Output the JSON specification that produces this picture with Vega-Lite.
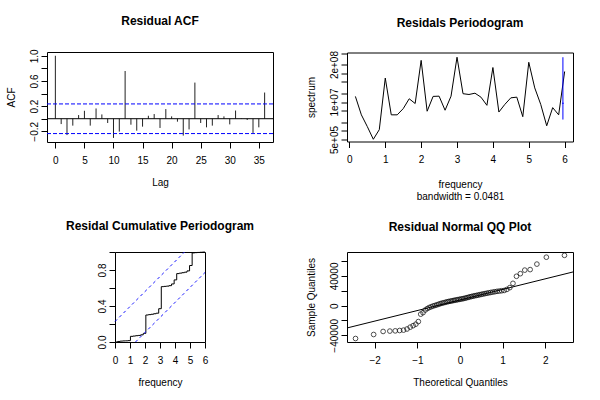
{
  "$schema": "https://vega.github.io/schema/vega-lite/v6.json",
  "padding": {"left": 5, "top": 14, "right": 5, "bottom": 5},
  "background": "white",
  "columns": 2,
  "bounds": "flush",
  "center": true,
  "spacing": {"row": 110, "column": 74},
  "config": {
    "font": "Liberation Sans",
    "view": {"stroke": "black", "strokeWidth": 1},
    "axis": {"domain": false, "grid": false, "ticks": true, "tickColor": "black", "tickSize": 6, "tickWidth": 1,
      "labelColor": "black", "labelFont": "Liberation Sans", "labelFontSize": 10, "labelPadding": 7,
      "labelFlush": false, "labelOverlap": false,
      "titleFont": "Liberation Sans", "titleFontSize": 10, "titleFontWeight": "normal", "titleColor": "black", "titlePadding": 12},
    "axisY": {"labelAngle": -90, "labelAlign": "center", "labelBaseline": "bottom", "labelPadding": 2, "titlePadding": 13},
    "title": {"font": "Liberation Sans", "fontSize": 12, "fontWeight": "bold", "color": "black", "anchor": "middle"}
  },
  "concat": [
    {
      "width": 226, "height": 90,
      "title": {"text": "Residual ACF", "offset": 21},
      "layer": [
        {
          "data": {"values": [
            {"lag": 0, "acf": 1.0}, {"lag": 1, "acf": -0.085}, {"lag": 2, "acf": -0.26}, {"lag": 3, "acf": -0.11},
            {"lag": 4, "acf": 0.058}, {"lag": 5, "acf": 0.126}, {"lag": 6, "acf": -0.11}, {"lag": 7, "acf": 0.163},
            {"lag": 8, "acf": 0.068}, {"lag": 9, "acf": -0.068}, {"lag": 10, "acf": -0.305}, {"lag": 11, "acf": -0.205},
            {"lag": 12, "acf": 0.758}, {"lag": 13, "acf": -0.095}, {"lag": 14, "acf": -0.19}, {"lag": 15, "acf": -0.126},
            {"lag": 16, "acf": 0.047}, {"lag": 17, "acf": 0.074}, {"lag": 18, "acf": -0.147}, {"lag": 19, "acf": 0.153},
            {"lag": 20, "acf": 0.037}, {"lag": 21, "acf": -0.047}, {"lag": 22, "acf": -0.268}, {"lag": 23, "acf": -0.17},
            {"lag": 24, "acf": 0.574}, {"lag": 25, "acf": -0.068}, {"lag": 26, "acf": -0.137}, {"lag": 27, "acf": -0.11},
            {"lag": 28, "acf": 0.058}, {"lag": 29, "acf": 0.037}, {"lag": 30, "acf": -0.09}, {"lag": 31, "acf": 0.13},
            {"lag": 32, "acf": -0.005}, {"lag": 33, "acf": -0.02}, {"lag": 34, "acf": -0.226}, {"lag": 35, "acf": -0.137},
            {"lag": 36, "acf": 0.416}
          ]},
          "mark": {"type": "rule", "color": "#222222", "strokeWidth": 1},
          "encoding": {
            "x": {"field": "lag", "type": "quantitative", "scale": {"domain": [-1.44, 37.44], "nice": false, "zero": false},
              "axis": {"values": [0, 5, 10, 15, 20, 25, 30, 35], "title": "Lag"}},
            "y": {"field": "acf", "type": "quantitative", "scale": {"domain": [-0.37, 1.06], "nice": false, "zero": false},
              "axis": {"values": [-0.2, 0, 0.2, 0.4, 0.6, 0.8, 1], "format": ".1f",
                "labelExpr": "abs(datum.value - 1) < 0.001 || abs(datum.value - 0.6) < 0.001 || abs(datum.value - 0.2) < 0.001 || abs(datum.value + 0.2) < 0.001 ? datum.label : ''",
                "title": "ACF"}},
            "y2": {"datum": 0}
          }
        },
        {
          "data": {"values": [{"acf": 0}]},
          "mark": {"type": "rule", "color": "black", "strokeWidth": 1},
          "encoding": {"y": {"field": "acf", "type": "quantitative", "scale": {"domain": [-0.37, 1.06], "nice": false, "zero": false},
              "axis": {"values": [-0.2, 0, 0.2, 0.4, 0.6, 0.8, 1], "format": ".1f",
                "labelExpr": "abs(datum.value - 1) < 0.001 || abs(datum.value - 0.6) < 0.001 || abs(datum.value - 0.2) < 0.001 || abs(datum.value + 0.2) < 0.001 ? datum.label : ''",
                "title": "ACF"}}}
        },
        {
          "data": {"values": [{"acf": 0.235}, {"acf": -0.236}]},
          "mark": {"type": "rule", "color": "#0000ff", "strokeWidth": 1, "strokeDash": [4, 2]},
          "encoding": {"y": {"field": "acf", "type": "quantitative", "scale": {"domain": [-0.37, 1.06], "nice": false, "zero": false},
              "axis": {"values": [-0.2, 0, 0.2, 0.4, 0.6, 0.8, 1], "format": ".1f",
                "labelExpr": "abs(datum.value - 1) < 0.001 || abs(datum.value - 0.6) < 0.001 || abs(datum.value - 0.2) < 0.001 || abs(datum.value + 0.2) < 0.001 ? datum.label : ''",
                "title": "ACF"}}}
        }
      ]
    },
    {
      "width": 226, "height": 89,
      "title": {"text": "Residals Periodogram", "offset": 21},
      "layer": [
        {
          "data": {"values": [
            {"freq": 0.1667, "spec": 15700000}, {"freq": 0.3333, "spec": 3600000}, {"freq": 0.5, "spec": 1400000},
            {"freq": 0.6667, "spec": 510000}, {"freq": 0.8333, "spec": 1100000}, {"freq": 1.0, "spec": 68000000},
            {"freq": 1.1667, "spec": 3600000}, {"freq": 1.3333, "spec": 3600000}, {"freq": 1.5, "spec": 5900000},
            {"freq": 1.6667, "spec": 13000000}, {"freq": 1.8333, "spec": 8900000}, {"freq": 2.0, "spec": 280000000},
            {"freq": 2.1667, "spec": 4800000}, {"freq": 2.3333, "spec": 15700000}, {"freq": 2.5, "spec": 16000000},
            {"freq": 2.6667, "spec": 5200000}, {"freq": 2.8333, "spec": 16000000}, {"freq": 3.0, "spec": 360000000},
            {"freq": 3.1667, "spec": 19500000}, {"freq": 3.3333, "spec": 18300000}, {"freq": 3.5, "spec": 20300000},
            {"freq": 3.6667, "spec": 14800000}, {"freq": 3.8333, "spec": 7700000}, {"freq": 4.0, "spec": 158000000},
            {"freq": 4.1667, "spec": 4500000}, {"freq": 4.3333, "spec": 8300000}, {"freq": 4.5, "spec": 14000000},
            {"freq": 4.6667, "spec": 14800000}, {"freq": 4.8333, "spec": 3100000}, {"freq": 5.0, "spec": 240000000},
            {"freq": 5.1667, "spec": 31000000}, {"freq": 5.3333, "spec": 8300000}, {"freq": 5.5, "spec": 1500000},
            {"freq": 5.6667, "spec": 6400000}, {"freq": 5.8333, "spec": 3600000}, {"freq": 6.0, "spec": 115000000}
          ]},
          "mark": {"type": "line", "color": "black", "strokeWidth": 1},
          "encoding": {
            "x": {"field": "freq", "type": "quantitative", "scale": {"domain": [-0.067, 6.233], "nice": false, "zero": false},
              "axis": {"values": [0, 1, 2, 3, 4, 5, 6], "title": ["frequency", "bandwidth = 0.0481"], "titleLineHeight": 12, "titlePadding": 15}},
            "y": {"field": "spec", "type": "quantitative", "scale": {"type": "log", "domain": [427000, 525000000], "nice": false},
              "axis": {"values": [500000, 1000000, 2000000, 5000000, 10000000, 20000000, 50000000, 100000000, 200000000, 500000000],
                "labelExpr": "datum.value == 500000 ? '5e+05' : datum.value == 10000000 ? '1e+07' : datum.value == 200000000 ? '2e+08' : ''",
                "title": "spectrum"}}
          }
        },
        {
          "data": {"values": [{"freq": 5.952, "spec": 2470000, "hi": 360000000}]},
          "mark": {"type": "rule", "color": "#0000ff", "strokeWidth": 1},
          "encoding": {
            "x": {"field": "freq", "type": "quantitative", "scale": {"domain": [-0.067, 6.233], "nice": false, "zero": false},
              "axis": {"values": [0, 1, 2, 3, 4, 5, 6], "title": ["frequency", "bandwidth = 0.0481"], "titleLineHeight": 12, "titlePadding": 15}},
            "y": {"field": "spec", "type": "quantitative", "scale": {"type": "log", "domain": [427000, 525000000], "nice": false},
              "axis": {"values": [500000, 1000000, 2000000, 5000000, 10000000, 20000000, 50000000, 100000000, 200000000, 500000000],
                "labelExpr": "datum.value == 500000 ? '5e+05' : datum.value == 10000000 ? '1e+07' : datum.value == 200000000 ? '2e+08' : ''",
                "title": "spectrum"}},
            "y2": {"field": "hi"}
          }
        },
        {
          "data": {"values": [{"freq": 5.928, "f2": 5.976, "spec": 9100000}]},
          "mark": {"type": "rule", "color": "#0000ff", "strokeWidth": 1},
          "encoding": {
            "x": {"field": "freq", "type": "quantitative", "scale": {"domain": [-0.067, 6.233], "nice": false, "zero": false},
              "axis": {"values": [0, 1, 2, 3, 4, 5, 6], "title": ["frequency", "bandwidth = 0.0481"], "titleLineHeight": 12, "titlePadding": 15}},
            "x2": {"field": "f2"},
            "y": {"field": "spec", "type": "quantitative", "scale": {"type": "log", "domain": [427000, 525000000], "nice": false},
              "axis": {"values": [500000, 1000000, 2000000, 5000000, 10000000, 20000000, 50000000, 100000000, 200000000, 500000000],
                "labelExpr": "datum.value == 500000 ? '5e+05' : datum.value == 10000000 ? '1e+07' : datum.value == 200000000 ? '2e+08' : ''",
                "title": "spectrum"}}
          }
        }
      ]
    },
    {
      "width": 90, "height": 90,
      "title": {"text": "Residal Cumulative Periodogram", "offset": 17},
      "layer": [
        {
          "data": {"values": [
            {"freq": 0, "cum": 0}, {"freq": 0.1714, "cum": 0.006}, {"freq": 0.3429, "cum": 0.01}, {"freq": 0.5143, "cum": 0.012},
            {"freq": 0.6857, "cum": 0.013}, {"freq": 0.8571, "cum": 0.015}, {"freq": 1.0286, "cum": 0.063}, {"freq": 1.2, "cum": 0.066},
            {"freq": 1.3714, "cum": 0.07}, {"freq": 1.5429, "cum": 0.073}, {"freq": 1.7143, "cum": 0.08}, {"freq": 1.8857, "cum": 0.096},
            {"freq": 2.0571, "cum": 0.3}, {"freq": 2.2286, "cum": 0.304}, {"freq": 2.4, "cum": 0.308}, {"freq": 2.5714, "cum": 0.314},
            {"freq": 2.7429, "cum": 0.32}, {"freq": 2.9143, "cum": 0.37}, {"freq": 3.0857, "cum": 0.615}, {"freq": 3.2571, "cum": 0.618},
            {"freq": 3.4286, "cum": 0.621}, {"freq": 3.6, "cum": 0.626}, {"freq": 3.7714, "cum": 0.645}, {"freq": 3.9429, "cum": 0.69},
            {"freq": 4.1143, "cum": 0.76}, {"freq": 4.2857, "cum": 0.765}, {"freq": 4.4571, "cum": 0.77}, {"freq": 4.6286, "cum": 0.776},
            {"freq": 4.8, "cum": 0.79}, {"freq": 4.9714, "cum": 0.85}, {"freq": 5.1429, "cum": 0.99}, {"freq": 5.3143, "cum": 0.993},
            {"freq": 5.4857, "cum": 0.995}, {"freq": 5.6571, "cum": 0.997}, {"freq": 5.8286, "cum": 0.999}, {"freq": 6.0, "cum": 1.0}
          ]},
          "mark": {"type": "line", "color": "black", "strokeWidth": 1, "interpolate": "step-after"},
          "encoding": {
            "x": {"field": "freq", "type": "quantitative", "scale": {"domain": [0, 6], "nice": false, "zero": false},
              "axis": {"values": [0, 1, 2, 3, 4, 5, 6], "title": "frequency"}},
            "y": {"field": "cum", "type": "quantitative", "scale": {"domain": [0, 1], "nice": false},
              "axis": {"values": [0, 0.2, 0.4, 0.6, 0.8, 1], "format": ".1f",
                "labelExpr": "abs(datum.value) < 0.001 || abs(datum.value - 0.4) < 0.001 || abs(datum.value - 0.8) < 0.001 ? datum.label : ''", "title": null}}
          }
        },
        {
          "data": {"values": [
            {"freq": 0, "cum": 0.2275, "side": "upper"}, {"freq": 4.635, "cum": 1, "side": "upper"},
            {"freq": 1.365, "cum": 0, "side": "lower"}, {"freq": 6, "cum": 0.7725, "side": "lower"}
          ]},
          "mark": {"type": "line", "color": "#1a1aff", "strokeWidth": 1, "strokeDash": [3, 3]},
          "encoding": {
            "x": {"field": "freq", "type": "quantitative", "scale": {"domain": [0, 6], "nice": false, "zero": false},
              "axis": {"values": [0, 1, 2, 3, 4, 5, 6], "title": "frequency"}},
            "y": {"field": "cum", "type": "quantitative", "scale": {"domain": [0, 1], "nice": false},
              "axis": {"values": [0, 0.2, 0.4, 0.6, 0.8, 1], "format": ".1f",
                "labelExpr": "abs(datum.value) < 0.001 || abs(datum.value - 0.4) < 0.001 || abs(datum.value - 0.8) < 0.001 ? datum.label : ''", "title": null}},
            "detail": {"field": "side", "type": "nominal"}
          }
        }
      ]
    },
    {
      "width": 226, "height": 90,
      "title": {"text": "Residual Normal QQ Plot", "offset": 17},
      "layer": [
        {
          "data": {"values": [
            {"tq": -2.45, "sq": -44300}, {"tq": -2.025, "sq": -38900}, {"tq": -1.803, "sq": -34800}, {"tq": -1.645, "sq": -34300},
            {"tq": -1.519, "sq": -34000}, {"tq": -1.415, "sq": -33500}, {"tq": -1.324, "sq": -33000}, {"tq": -1.242, "sq": -31500},
            {"tq": -1.168, "sq": -29000}, {"tq": -1.099, "sq": -27000}, {"tq": -1.036, "sq": -25000}, {"tq": -0.977, "sq": -21500},
            {"tq": -0.921, "sq": -11500}, {"tq": -0.867, "sq": -9500}, {"tq": -0.817, "sq": -6000}, {"tq": -0.767, "sq": -4000},
            {"tq": -0.72, "sq": -2500}, {"tq": -0.674, "sq": -1500}, {"tq": -0.63, "sq": -500}, {"tq": -0.587, "sq": 200},
            {"tq": -0.545, "sq": 1000}, {"tq": -0.504, "sq": 1800}, {"tq": -0.464, "sq": 2600}, {"tq": -0.424, "sq": 3300},
            {"tq": -0.385, "sq": 3800}, {"tq": -0.347, "sq": 4400}, {"tq": -0.309, "sq": 5000}, {"tq": -0.272, "sq": 5500},
            {"tq": -0.235, "sq": 5900}, {"tq": -0.198, "sq": 6300}, {"tq": -0.162, "sq": 6800}, {"tq": -0.126, "sq": 7200},
            {"tq": -0.09, "sq": 7600}, {"tq": -0.054, "sq": 8000}, {"tq": -0.018, "sq": 8400}, {"tq": 0.018, "sq": 8800},
            {"tq": 0.054, "sq": 9200}, {"tq": 0.09, "sq": 9600}, {"tq": 0.126, "sq": 10100}, {"tq": 0.162, "sq": 10700},
            {"tq": 0.198, "sq": 11200}, {"tq": 0.235, "sq": 11800}, {"tq": 0.272, "sq": 12300}, {"tq": 0.309, "sq": 12800},
            {"tq": 0.347, "sq": 13300}, {"tq": 0.385, "sq": 13700}, {"tq": 0.424, "sq": 14200}, {"tq": 0.464, "sq": 14700},
            {"tq": 0.504, "sq": 15200}, {"tq": 0.545, "sq": 15700}, {"tq": 0.587, "sq": 16200}, {"tq": 0.63, "sq": 16700},
            {"tq": 0.674, "sq": 17200}, {"tq": 0.72, "sq": 17700}, {"tq": 0.767, "sq": 18200}, {"tq": 0.817, "sq": 18700},
            {"tq": 0.867, "sq": 19200}, {"tq": 0.921, "sq": 19600}, {"tq": 0.977, "sq": 20000}, {"tq": 1.036, "sq": 20400},
            {"tq": 1.099, "sq": 21800}, {"tq": 1.168, "sq": 24200}, {"tq": 1.242, "sq": 30000}, {"tq": 1.324, "sq": 39500},
            {"tq": 1.415, "sq": 43000}, {"tq": 1.519, "sq": 47800}, {"tq": 1.645, "sq": 48500}, {"tq": 1.803, "sq": 55900},
            {"tq": 2.025, "sq": 65200}, {"tq": 2.45, "sq": 67700}
          ]},
          "mark": {"type": "point", "shape": "circle", "filled": false, "color": "black", "size": 22, "strokeWidth": 1},
          "encoding": {
            "x": {"field": "tq", "type": "quantitative", "scale": {"domain": [-2.65, 2.65], "nice": false, "zero": false},
              "axis": {"values": [-2, -1, 0, 1, 2], "title": "Theoretical Quantiles"}},
            "y": {"field": "sq", "type": "quantitative", "scale": {"domain": [-49000, 72200], "nice": false, "zero": false},
              "axis": {"values": [-40000, -20000, 0, 20000, 40000, 60000], "format": "d",
                "labelExpr": "datum.value % 40000 == 0 ? datum.label : ''", "title": "Sample Quantiles"}}
          }
        },
        {
          "data": {"values": [{"tq": -2.65, "sq": -30110}, {"tq": 2.65, "sq": 45310}]},
          "mark": {"type": "line", "color": "black", "strokeWidth": 1},
          "encoding": {
            "x": {"field": "tq", "type": "quantitative", "scale": {"domain": [-2.65, 2.65], "nice": false, "zero": false},
              "axis": {"values": [-2, -1, 0, 1, 2], "title": "Theoretical Quantiles"}},
            "y": {"field": "sq", "type": "quantitative", "scale": {"domain": [-49000, 72200], "nice": false, "zero": false},
              "axis": {"values": [-40000, -20000, 0, 20000, 40000, 60000], "format": "d",
                "labelExpr": "datum.value % 40000 == 0 ? datum.label : ''", "title": "Sample Quantiles"}}
          }
        }
      ]
    }
  ]
}
